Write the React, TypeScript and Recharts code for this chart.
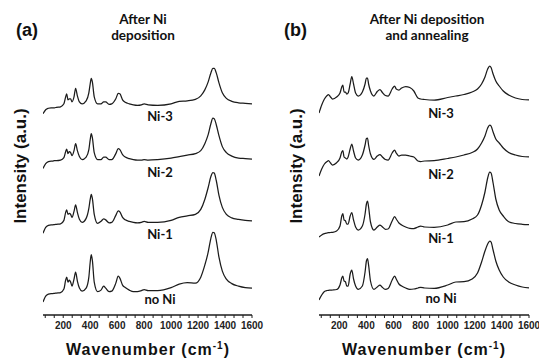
import { LineChart, Line, XAxis, YAxis } from 'recharts'

// Raman shift grid (cm-1), shared by all spectra
const wavenumber = [
  50, 70, 90, 110, 120, 135, 150, 180, 205, 218,
  226, 235, 245, 255, 265, 280, 292, 305, 320, 340,
  370, 390, 400, 408, 416, 430, 455, 480, 500, 515,
  540, 560, 590, 608, 620, 640, 660, 690, 720, 750,
  780, 800, 830, 900, 1000, 1060, 1120, 1180, 1220, 1250,
  1275, 1295, 1310, 1320, 1335, 1355, 1380, 1410, 1450, 1500,
  1550, 1600,
]

// (a) after Ni deposition, stacked intensities (a.u.)
const aNi3 = [
  202, 206, 207.5, 208, 208, 208, 208.5, 209, 212, 219,
  222, 216, 217, 217, 214, 219, 227.5, 220, 214, 212,
  215, 223, 232, 237.5, 234, 219, 212, 212, 214, 214,
  211.5, 212, 217, 222.5, 222, 216, 213.5, 212, 211, 210.5,
  211, 212, 211, 210.5, 212, 214.5, 215, 216.5, 220, 226,
  234, 243, 247.5, 247.5, 243, 233, 223, 217.5, 214.5, 213,
  212.5, 212,
]
const aNi2 = [
  147, 152, 154, 154.5, 154.5, 155, 155, 155.5, 158, 164,
  166.5, 162, 164, 163, 160, 165, 172, 165, 159, 156,
  158.5, 166, 176, 182, 178, 163, 156, 156, 158.5, 158.5,
  156, 156, 162, 167, 166, 161, 158.5, 157, 156, 155.5,
  155.5, 156, 155.5, 156, 157.5, 159, 160.5, 162, 165, 172,
  181, 192, 197.5, 197, 191, 180, 169, 163, 159.5, 157.5,
  157, 156.5,
]
const aNi1 = [
  82, 88, 90, 90.5, 90.5, 90.7, 91, 91.5, 95, 103,
  105.5, 101, 102, 101, 98, 104, 110.5, 103, 96, 93,
  97, 107, 116, 121, 117, 101, 92, 94, 96.5, 95.5,
  92.5, 93, 100, 104.5, 103.5, 98, 95.5, 94, 93, 92.5,
  93, 94, 93, 93, 95, 98, 99.5, 101, 106, 116,
  128, 139, 143, 142.5, 135, 120, 108, 101, 97.5, 96,
  95, 94.5,
]
const aNoNi = [
  13, 19, 21, 21.5, 21.5, 21.7, 22, 22.5, 26, 35,
  38, 33, 35, 33, 29, 36, 43, 34, 27, 24,
  27, 38, 53, 60.5, 55, 33, 23.5, 25, 29, 27,
  23.5, 24, 32, 39, 37, 30, 27.5, 25, 23.5, 23.5,
  24.5, 25.5, 24.5, 24.5, 27.5, 31, 32.5, 32, 38, 50,
  63, 77, 83, 82.5, 75, 58, 44, 36, 31.5, 29,
  27.5, 27,
]

// (b) after Ni deposition and annealing
const bNi3 = [
  202, 210, 216, 219.5, 220.5, 218, 216, 218, 222, 228,
  230, 223, 223, 221, 222, 231, 238.5, 231, 222, 219,
  223, 231, 237, 237, 231, 224, 219, 223.5, 225.5, 223,
  219.5, 219, 226, 229, 226, 225, 227, 228.5, 227.5, 224,
  217, 216, 215.5, 215, 217.5, 219, 220.5, 223, 226, 231,
  238, 246, 249, 247.5, 241, 234, 229, 224, 220, 217,
  215.5, 215,
]
const bNi2 = [
  139, 146, 151, 153.5, 154.3, 152, 150, 152.3, 157, 163,
  164.3, 158, 157, 156, 158, 166, 171, 164, 157, 155,
  160, 170, 176.5, 177, 170, 161, 155.7, 159, 160.5, 158.5,
  155.5, 155, 162, 165, 162, 159, 160, 160, 159, 158,
  154, 153.5, 154, 154.3, 156.5, 158, 160, 162.5, 166, 172,
  179, 187, 190, 189, 183, 176, 172, 167, 162.5, 160,
  158.5, 158,
]
const bNi1 = [
  78, 80, 81.3, 82, 82.3, 82.5, 82.7, 84, 89, 99,
  101.5, 95, 94.3, 91, 91, 99, 102.5, 95, 88, 85,
  89, 101, 111, 114, 108, 93, 85, 88, 90, 88.5,
  85.7, 86, 94, 98.3, 96, 92, 90, 88, 86.7, 86.5,
  88, 89, 88, 87.7, 90, 93, 93.3, 96, 100, 110,
  123, 137, 143, 142, 132, 116, 105, 99, 93.3, 91.5,
  90.7, 90.3,
]
const bNoNi = [
  15, 20, 23.5, 24.5, 24.7, 24.8, 25, 25.5, 30, 37,
  39, 34, 33.3, 29, 29, 41, 45, 36, 29, 25.7,
  29, 43, 54, 56.5, 50, 34, 25.7, 28, 30, 28,
  25.7, 26.5, 35, 39, 36, 31, 29, 27, 25.7, 26,
  27, 27.7, 27, 26.7, 30, 33, 33.3, 36, 42, 53,
  64, 71, 74, 73, 65, 54, 45, 38, 33, 30,
  28, 27,
]

const tickLabels = [200, 400, 600, 800, 1000, 1200, 1400, 1600]
const axisTicks = [
  66.67, 133.33, 200, 266.67, 333.33, 400, 466.67, 533.33, 600, 666.67,
  733.33, 800, 866.67, 933.33, 1000, 1066.67, 1133.33, 1200, 1266.67, 1333.33,
  1400, 1466.67, 1533.33, 1600,
]

const seriesKeys = ['noNi', 'ni1', 'ni2', 'ni3']

function buildRows(noNi: number[], ni1: number[], ni2: number[], ni3: number[]) {
  return wavenumber.map((w, i) => ({ w, noNi: noNi[i], ni1: ni1[i], ni2: ni2[i], ni3: ni3[i] }))
}

const rowsA = buildRows(aNoNi, aNi1, aNi2, aNi3)
const rowsB = buildRows(bNoNi, bNi1, bNi2, bNi3)

const INK = '#1c1c1c'

function BottomTick(props: any) {
  const { x, y, payload } = props
  if (!tickLabels.includes(payload.value)) return null
  return (
    <text x={x} y={y} dy="0.75em" textAnchor="middle" fontSize={10} fontWeight="bold"
      fontFamily="'Liberation Sans', Arial, sans-serif" fill="#222">
      {payload.value}
    </text>
  )
}

function Panel({ rows, width, margin }: { rows: any[]; width: number; margin: any }) {
  return (
    <LineChart width={width} height={359} data={rows} margin={margin}>
      <XAxis dataKey="w" type="number" domain={[50, 1600]} ticks={axisTicks} interval={0}
        allowDataOverflow height={30} tickSize={3} tickMargin={3}
        axisLine={{ stroke: INK, strokeWidth: 1.3 }} tickLine={{ stroke: INK }}
        tick={<BottomTick />} />
      <XAxis xAxisId="top" orientation="top" dataKey="w" type="number" domain={[50, 1600]}
        ticks={axisTicks} interval={0} mirror height={0} tickSize={3} tick={false}
        axisLine={{ stroke: INK, strokeWidth: 1.3 }} tickLine={{ stroke: INK }} />
      <YAxis type="number" domain={[0, 265]} width={0} tick={false} tickLine={false}
        axisLine={{ stroke: INK, strokeWidth: 1.3 }} />
      <YAxis yAxisId="right" orientation="right" type="number" domain={[0, 265]} width={0}
        tick={false} tickLine={false} axisLine={{ stroke: INK, strokeWidth: 1.3 }} />
      {seriesKeys.map((k) => (
        <Line key={k} dataKey={k} type="monotone" stroke={INK} strokeWidth={1.25}
          dot={false} isAnimationActive={false} />
      ))}
    </LineChart>
  )
}

const sans = "'Liberation Sans', Arial, sans-serif"
const calibriLike = "Lato, 'Open Sans', sans-serif"

export default function App() {
  return (
    <div style={{ position: 'absolute', left: 0, top: 0, width: 539, height: 359, background: '#fff' }}>
      <div style={{ position: 'absolute', left: 0, top: 0 }}>
        <Panel rows={rowsA} width={270} margin={{ top: 51, right: 18, bottom: 14, left: 43 }} />
      </div>
      <div style={{ position: 'absolute', left: 270, top: 0 }}>
        <Panel rows={rowsB} width={269} margin={{ top: 50, right: 10, bottom: 14, left: 49 }} />
      </div>
      <svg width={539} height={359} style={{ position: 'absolute', left: 0, top: 0, pointerEvents: 'none' }}>
        <g fontWeight="bold" fill="#111">
          <text x={16} y={36} fontSize={18} fontFamily={sans}>(a)</text>
          <text x={284} y={36} fontSize={18} fontFamily={sans}>(b)</text>

          <g fontFamily={calibriLike} fontSize={13.5} textAnchor="middle">
            <text x={143} y={24}>After Ni</text>
            <text x={143} y={40}>deposition</text>
            <text x={427} y={24}>After Ni deposition</text>
            <text x={427} y={40}>and annealing</text>
          </g>

          <g fontFamily={calibriLike} fontSize={13} textAnchor="middle">
            <text x={160} y={121}>Ni-3</text>
            <text x={160} y={177}>Ni-2</text>
            <text x={160} y={239}>Ni-1</text>
            <text x={160} y={304}>no Ni</text>
            <text x={441} y={118}>Ni-3</text>
            <text x={441} y={179}>Ni-2</text>
            <text x={441} y={243}>Ni-1</text>
            <text x={441} y={303}>no Ni</text>
          </g>

          <g fontFamily={sans} fontSize={16} letterSpacing={1} textAnchor="middle">
            <text x={148} y={355}>
              Wavenumber (cm<tspan fontSize={10} dy={-6}>-1</tspan><tspan dy={6}>)</tspan>
            </text>
            <text x={424} y={355}>
              Wavenumber (cm<tspan fontSize={10} dy={-6}>-1</tspan><tspan dy={6}>)</tspan>
            </text>
          </g>

          <g fontFamily={sans} fontSize={17} textAnchor="middle">
            <text transform="translate(26 166) rotate(-90)">Intensity (a.u.)</text>
            <text transform="translate(302 166) rotate(-90)">Intensity (a.u.)</text>
          </g>
        </g>
      </svg>
    </div>
  )
}
